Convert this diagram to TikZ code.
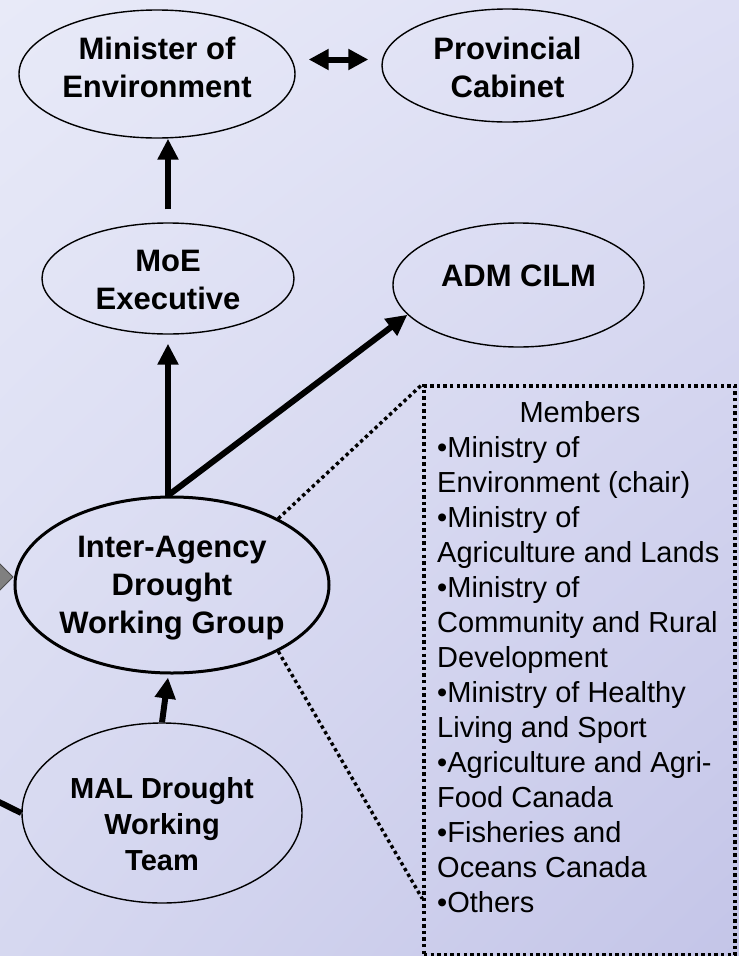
\documentclass[tikz,border=0pt]{standalone}
\usepackage{fontspec}
\setmainfont{Liberation Sans}
\usetikzlibrary{arrows.meta,shapes.geometric,calc,shadings}
\definecolor{bgA}{RGB}{232,234,248}
\definecolor{bgB}{RGB}{222,223,244}
\definecolor{bgC}{RGB}{214,216,240}
\definecolor{bgD}{RGB}{196,197,232}
\begin{document}
\begin{tikzpicture}[x=1pt,y=-1pt,
  ell/.style={ellipse, draw=black, line width=1.4pt, inner sep=0pt},
  thickell/.style={ell, line width=3pt},
  lbl/.style={font=\bfseries\fontsize{31}{38}\selectfont, align=center, inner sep=0pt},
  lblsm/.style={font=\bfseries\fontsize{29}{36}\selectfont, align=center, inner sep=0pt},
  arr/.style={line width=6pt, -{Triangle[length=21pt,width=20pt]}},
  darr/.style={line width=6pt, {Triangle[length=20pt,width=20pt]}-{Triangle[length=20pt,width=20pt]}},
  dotline/.style={line width=3.4pt, dash pattern=on 3.4pt off 3.2pt},
  memtext/.style={font=\fontsize{29}{35}\selectfont, align=left, inner sep=0pt},
]
\shade[upper left=bgA, upper right=bgB, lower left=bgC, lower right=bgD] (0,0) rectangle (739,956);
\useasboundingbox (0,0) rectangle (739,956);

\node[ell, minimum width=276pt, minimum height=128pt,
  label={[lbl,yshift=7pt]center:{Minister of\\Environment}}] (minister) at (157,74) {};
\node[ell, minimum width=251pt, minimum height=113pt,
  label={[lbl,yshift=-1.5pt]center:{Provincial\\Cabinet}}] (prov) at (507.5,65.5) {};
\node[ell, minimum width=252pt, minimum height=111pt,
  label={[lbl,yshift=-1.5pt]center:{MoE\\Executive}}] (moe) at (168,278.5) {};
\node[ell, minimum width=251pt, minimum height=124pt,
  label={[lbl,yshift=9pt]center:{ADM CILM}}] (adm) at (518.5,285) {};
\node[thickell, minimum width=314pt, minimum height=176pt,
  label={[lbl,yshift=-3pt]center:{Inter-Agency\\Drought\\Working Group}}] (iadwg) at (172,585) {};
\node[ell, minimum width=280pt, minimum height=180pt,
  label={[lblsm,yshift=-11pt]center:{MAL Drought\\Working\\Team}}] (mal) at (162,813) {};

\node[draw, dotline, minimum width=311pt, minimum height=569pt, inner sep=0pt] (box) at (579.5,670.5) {};
\node[font=\fontsize{29}{35}\selectfont, inner sep=0pt] (memtitle) at (580,412) {Members};
\node[memtext, anchor=north west] (memlist) at (437,436) {•Ministry of\\Environment (chair)\\•Ministry of\\Agriculture and Lands\\•Ministry of\\Community and Rural\\Development\\•Ministry of Healthy\\Living and Sport\\•Agriculture and Agri-\\Food Canada\\•Fisheries and\\Oceans Canada\\•Others};

\coordinate (boxlow) at ($(box.south west)+(0,-58)$);
\draw[dotline] (iadwg.32.5) -- (box.north west);
\draw[dotline] (iadwg.-32.5) -- (boxlow);

\draw[arr] ([yshift=13pt]moe.north) -- (moe.north |- minister.south);
\draw[arr] (iadwg.north -| moe.south) -- ([yshift=-9pt]moe.south);
\draw[arr] (iadwg.north -| moe.south) -- (adm.195);
\draw[arr] (mal.north) -- ([xshift=-4pt,yshift=-3pt]iadwg.south);
\draw[darr] ($(minister.east |- prov.west)+(13,-6)$) -- ($(prov.west)+(-13,-6)$);

\coordinate (offleft) at (-3,801);
\draw[line width=6pt] (offleft) -- (mal.west);
\coordinate (greytip) at (13,577);
\draw[fill=gray, draw=black!70, line width=1pt] (-4,560) -- (greytip) -- (-4,594) -- cycle;
\end{tikzpicture}
\end{document}
